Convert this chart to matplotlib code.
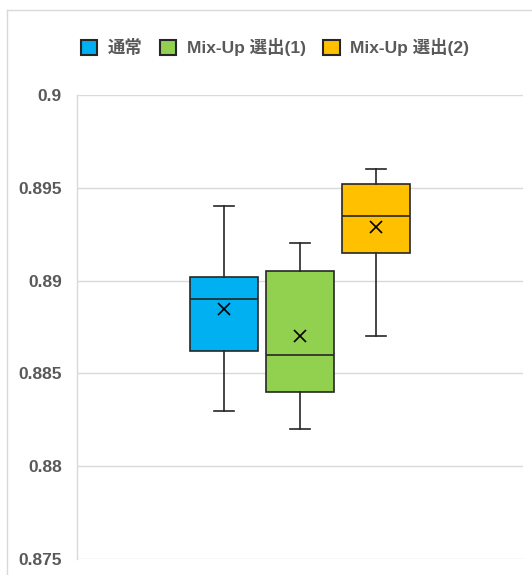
import matplotlib
matplotlib.use("Agg")
import matplotlib.pyplot as plt
from matplotlib.patches import Patch
from matplotlib.lines import Line2D

plt.rcParams['font.family'] = ['Liberation Sans', 'Noto Sans CJK JP', 'DejaVu Sans']

series = ["通常", "Mix-Up 選出(1)", "Mix-Up 選出(2)"]
colors = ["#00B0F0", "#92D050", "#FFC000"]
whislo = [0.883, 0.882, 0.887]
q1 = [0.8862, 0.8840, 0.8915]
med = [0.8890, 0.8860, 0.8935]
q3 = [0.8902, 0.8905, 0.8952]
whishi = [0.894, 0.892, 0.896]
means = [0.88845, 0.8870, 0.8929]
yticks = [0.875, 0.88, 0.885, 0.89, 0.895, 0.9]
ytick_labels = ["0.875", "0.88", "0.885", "0.89", "0.895", "0.9"]

W, H = 532, 575
fig = plt.figure(figsize=(W / 100, H / 100), dpi=100)
ax = fig.add_axes([77 / W, (H - 559) / H, (523 - 77) / W, (559 - 95) / H])

# outer chart frame (cropped)
fig.add_artist(Line2D([7 / W, 7 / W], [0, 1 - 10 / H], transform=fig.transFigure,
                      color="#d9d9d9", lw=1.0))
fig.add_artist(Line2D([7 / W, 1], [1 - 10 / H, 1 - 10 / H], transform=fig.transFigure,
                      color="#d9d9d9", lw=1.0))

stats = []
for i in range(3):
    stats.append(dict(whislo=whislo[i], q1=q1[i], med=med[i], q3=q3[i],
                      whishi=whishi[i], mean=means[i], fliers=[], label=series[i]))

positions = [-1, 0, 1]
edge = "#262626"
bp = ax.bxp(stats, positions=positions, widths=0.9, patch_artist=True,
            showmeans=True, showcaps=True, capwidths=0.27,
            boxprops=dict(edgecolor=edge, linewidth=1.2),
            medianprops=dict(color=edge, linewidth=1.2),
            whiskerprops=dict(color=edge, linewidth=1.2),
            capprops=dict(color=edge, linewidth=1.2),
            meanprops=dict(marker="x", markeredgecolor="black", markersize=9,
                           markeredgewidth=1.2), zorder=3)
for patch, c in zip(bp["boxes"], colors):
    patch.set_facecolor(c)

ax.set_xlim(-2.935, 2.935)
ax.set_ylim(0.875, 0.9)
ax.set_yticks(yticks)
ax.set_yticklabels(ytick_labels)
ax.set_xticks([])
ax.grid(axis="y", color="#d9d9d9", linewidth=1.0, zorder=0)
ax.set_axisbelow(True)
for s in ["top", "right", "bottom"]:
    ax.spines[s].set_visible(False)
ax.spines["left"].set_color("#d9d9d9")
ax.spines["left"].set_linewidth(1.0)
ax.tick_params(axis="y", length=0, pad=11, labelsize=12.5, labelcolor="#595959")
for lab in ax.get_yticklabels():
    lab.set_fontweight("bold")

handles = [Patch(facecolor=c, edgecolor=edge, linewidth=1.5) for c in colors]
leg = fig.legend(handles, series, loc="center", bbox_to_anchor=(275 / W, 1 - 47 / H),
                 ncol=3, frameon=False, handlelength=0.95, handleheight=0.95,
                 handletextpad=0.6, columnspacing=1.0,
                 prop=dict(size=12.5, weight="bold"))
for t in leg.get_texts():
    t.set_color("#595959")

fig.savefig("out.png", dpi=100)
